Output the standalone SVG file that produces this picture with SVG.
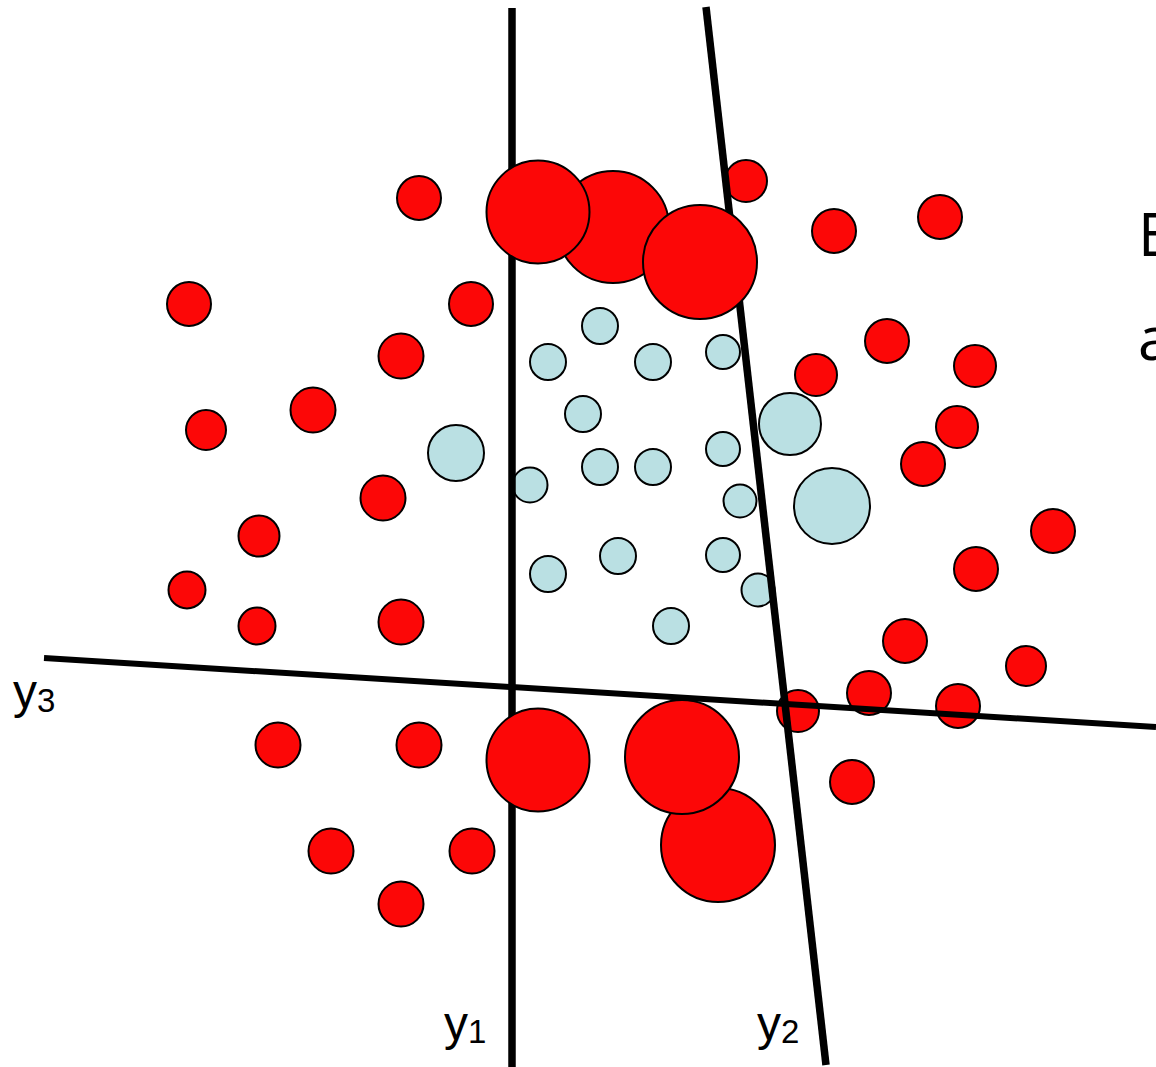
<svg xmlns="http://www.w3.org/2000/svg" width="1156" height="1067" viewBox="0 0 1156 1067">
<style>
.r{fill:#FC0707;stroke:#000;stroke-width:2}
.b{fill:#BAE0E3;stroke:#000;stroke-width:2}
.ax{stroke:#000;fill:none}
.lbl{font-family:"Liberation Sans",Arial,sans-serif;font-size:48px;fill:#000}
.sub{font-size:33px}
.side{font-family:"Open Sans","Liberation Sans",sans-serif;font-size:60px;fill:#000}
</style>
<rect width="1156" height="1067" fill="#fff"/>
<g id="small-red">
<circle class="r" cx="419" cy="198" r="22"/>
<circle class="r" cx="189" cy="304" r="22"/>
<circle class="r" cx="471" cy="304" r="22"/>
<circle class="r" cx="401" cy="356" r="22.5"/>
<circle class="r" cx="313" cy="410" r="22.5"/>
<circle class="r" cx="206" cy="430" r="20"/>
<circle class="r" cx="383" cy="498" r="22.5"/>
<circle class="r" cx="259" cy="536" r="20.5"/>
<circle class="r" cx="187" cy="590" r="18.5"/>
<circle class="r" cx="257" cy="626" r="18.5"/>
<circle class="r" cx="401" cy="622" r="22.5"/>
<circle class="r" cx="746" cy="181" r="21"/>
<circle class="r" cx="834" cy="231" r="22"/>
<circle class="r" cx="940" cy="217" r="22"/>
<circle class="r" cx="887" cy="341" r="22"/>
<circle class="r" cx="816" cy="375" r="21"/>
<circle class="r" cx="975" cy="366" r="21"/>
<circle class="r" cx="957" cy="427" r="21"/>
<circle class="r" cx="923" cy="464" r="22"/>
<circle class="r" cx="1053" cy="531" r="22"/>
<circle class="r" cx="976" cy="569" r="22"/>
<circle class="r" cx="905" cy="641" r="22"/>
<circle class="r" cx="1026" cy="666" r="20"/>
<circle class="r" cx="798" cy="711" r="21"/>
<circle class="r" cx="869" cy="693" r="22"/>
<circle class="r" cx="958" cy="706" r="22"/>
<circle class="r" cx="852" cy="782" r="22"/>
<circle class="r" cx="278" cy="745" r="22.5"/>
<circle class="r" cx="419" cy="745" r="22.5"/>
<circle class="r" cx="331" cy="851" r="22.5"/>
<circle class="r" cx="472" cy="851" r="22.5"/>
<circle class="r" cx="401" cy="904" r="22.5"/>
</g>
<g id="small-blue">
<circle class="b" cx="600" cy="326" r="18"/>
<circle class="b" cx="548" cy="362" r="18"/>
<circle class="b" cx="653" cy="362" r="18"/>
<circle class="b" cx="583" cy="414" r="18"/>
<circle class="b" cx="600" cy="467" r="18"/>
<circle class="b" cx="653" cy="467" r="18"/>
<circle class="b" cx="530" cy="485" r="17.5"/>
<circle class="b" cx="548" cy="574" r="18"/>
<circle class="b" cx="618" cy="556" r="18"/>
<circle class="b" cx="671" cy="626" r="18"/>
<circle class="b" cx="723" cy="352" r="17"/>
<circle class="b" cx="723" cy="449" r="17"/>
<circle class="b" cx="740" cy="501" r="16.5"/>
<circle class="b" cx="723" cy="555" r="17"/>
<circle class="b" cx="758" cy="590" r="16.5"/>
</g>
<g id="big-blue">
<circle class="b" cx="456" cy="453" r="28"/>
<circle class="b" cx="790" cy="424" r="31"/>
<circle class="b" cx="832" cy="506" r="38"/>
</g>
<g id="connectors">
<line id="y1-line" class="ax" x1="512" y1="8" x2="512" y2="1067" stroke-width="7.5"/>
<line id="y2-line" class="ax" x1="706" y1="7" x2="826" y2="1065" stroke-width="7.5"/>
</g>
<g id="big-red">
<circle class="r" cx="613" cy="227" r="56"/>
<circle class="r" cx="538" cy="212" r="51.5"/>
<circle class="r" cx="700" cy="262" r="57"/>
<circle class="r" cx="538" cy="760" r="51.5"/>
<circle class="r" cx="718" cy="845" r="57"/>
<circle class="r" cx="682" cy="757" r="57"/>
</g>
<g id="y3-axis">
<line class="ax" x1="44" y1="658" x2="1156" y2="727" stroke-width="6"/>
</g>
<g id="labels">
<text class="lbl" x="13" y="708">y<tspan class="sub" dy="4">3</tspan></text>
<text class="lbl" x="444" y="1040">y<tspan class="sub" dy="3">1</tspan></text>
<text class="lbl" x="757" y="1040">y<tspan class="sub" dy="3">2</tspan></text>
<text class="side" x="1138" y="256">E</text>
<text class="side" x="1138" y="360">a</text>
</g>
</svg>
